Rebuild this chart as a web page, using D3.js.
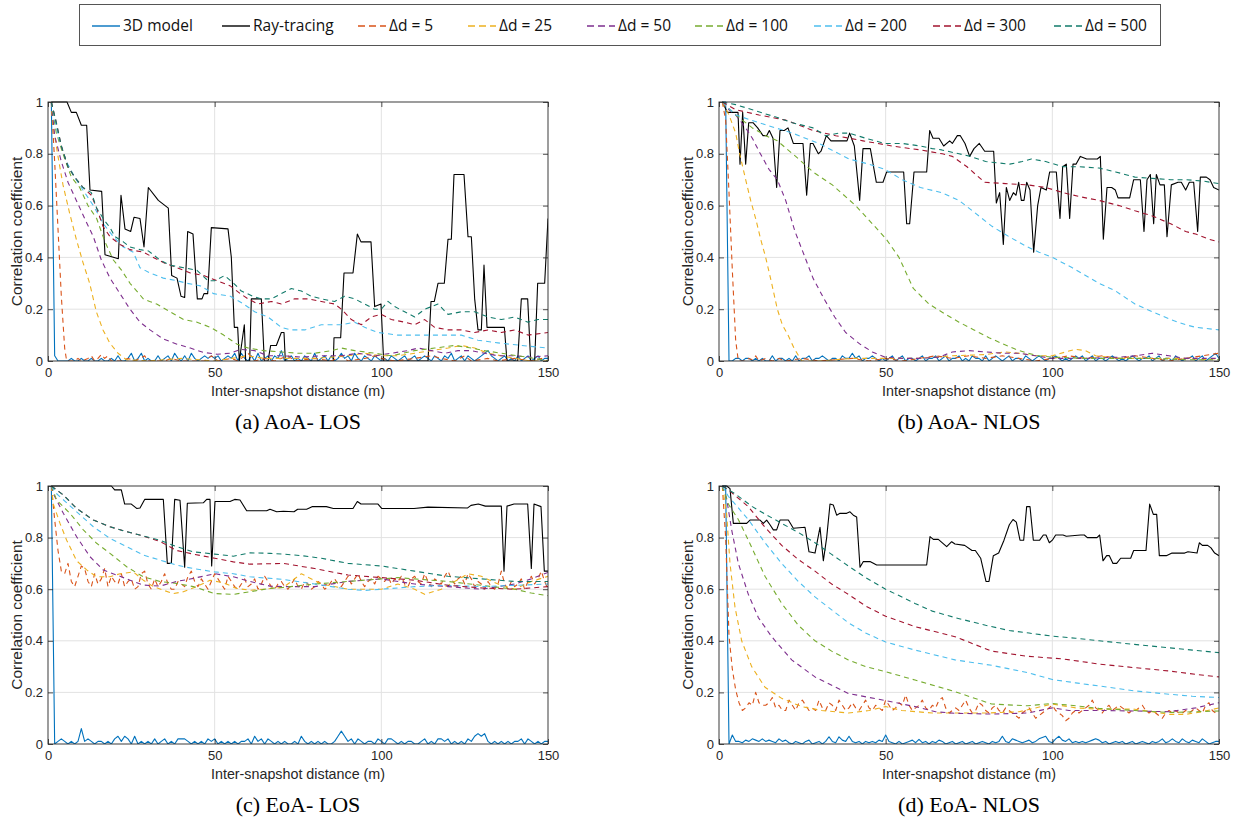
<!DOCTYPE html>
<html>
<head>
<meta charset="utf-8">
<script src="https://cdn.jsdelivr.net/npm/d3@7"></script>
<style>
  body { margin: 0; background: #fff; }
  svg { display: block; }
  .axis text { font-family: "Liberation Sans", Arial, sans-serif; font-size: 13px; fill: #262626; }
  .axis line { stroke: #262626; stroke-width: 0.8; }
  .grid line { stroke: #e2e2e2; stroke-width: 1; }
  .frame { fill: none; stroke: #262626; stroke-width: 0.9; }
  .axis-label { font-family: "Liberation Sans", Arial, sans-serif; font-size: 14.3px; fill: #262626; }
  .axis-label.y-label { font-size: 15.5px; }
  .caption { font-family: "Liberation Serif", "Times New Roman", serif; font-size: 22px; fill: #000; }
  .key-box { fill: #fff; stroke: #555; stroke-width: 1; }
  .key-text { font-family: "Open Sans", sans-serif; font-size: 15.5px; fill: #111; }
  .series { fill: none; stroke-width: 1.1; stroke-linejoin: round; }
</style>
</head>
<body>
<div id="correlation-chart"></div>
<script>
// Global vars
var SERIES_NAMES = ["3D model", "Ray-tracing", "\u0394d = 5", "\u0394d = 25", "\u0394d = 50",
  "\u0394d = 100", "\u0394d = 200", "\u0394d = 300", "\u0394d = 500"];
var SERIES_COLORS = ["#0072bd", "#000000", "#d95319", "#edb120", "#7e2f8e",
  "#77ac30", "#4dbeee", "#a2142f", "#127b6b"];
var SERIES_DASHED = [false, false, true, true, true, true, true, true, true];
var X_TICKS = [0, 50, 100, 150];
var Y_TICKS = [0, 0.2, 0.4, 0.6, 0.8, 1];
var CAPTIONS = ["(a) AoA- LOS", "(b) AoA- NLOS", "(c) EoA- LOS", "(d) EoA- NLOS"];
var X_LABEL = "Inter-snapshot distance (m)";
var Y_LABEL = "Correlation coefficient";

// Plain arrays are sampled at 1 m (x = 1, 2, 3 ...); pair arrays are [x, y].

// (a) AoA - LOS
var aoaLos3d = [
  1, .02, 0, 0, 0, 0, .01, 0, 0, .01,
  0, 0, .01, 0, 0, .01, 0, 0, .01, 0,
  .02, 0, 0, .01, .03, 0, .01, .03, 0, .01,
  0, 0, .02, 0, .01, .02, 0, .03, .01, 0,
  .02, 0, .03, .01, 0, .01, .02, .01, .02, .01,
  .02, 0, .01, .02, .01, .03, 0, .03, .01, 0,
  .02, 0, .03, 0, .01, .02, 0, .02, .01, .04,
  0, .01, .02, 0, .01, 0, .02, .01, 0, .03,
  0, .01, .02, 0, .02, 0, .01, .03, .01, .02,
  0, .03, .01, 0, .02, .01, 0, .02, .01, 0,
  .01, 0, .02, .01, 0, .01, .02, 0, .01, .02,
  0, .01, .02, .01, 0, .02, .01, 0, .02, .01,
  .03, 0, .01, .02, 0, .02, .01, 0, .01, .02,
  .03, .04, .02, .01, 0, .01, .02, 0, .01, 0,
  .02, 0, .01, .02, 0, .01, .02, 0, .01, .01
];
var aoaLosRay = [[1, 1], [5.7, 1], [7, .96], [8.5, .96], [10, .91], [11.6, .91], [12.6, .66], [16.1, .655],
  [17.1, .41], [21.1, .395], [21.9, .64], [23.1, .51], [24.8, .5], [25.8, .555], [27.6, .55], [28.8, .44],
  [30.1, .67], [33.1, .62], [36.1, .59], [37.1, .33], [38.7, .32], [39.9, .25], [41, .245], [41.9, .5],
  [43.5, .49], [44.8, .24], [46.2, .24], [46.8, .26], [47.9, .26], [49, .515], [54, .51], [55, .4],
  [55.9, .13], [56.9, .13], [57.4, 0], [58.9, .14], [59.3, 0], [60.5, 0], [61, .24], [64, .24], [64.9, 0],
  [66, 0], [66.8, .06], [68.5, .06], [70, .11], [70.8, .11], [71.2, 0], [85.6, 0], [85.8, .09], [87.8, .09],
  [88.8, .34], [91.5, .34], [92.8, .49], [93.9, .46], [96.9, .46], [98, .21], [99.9, .22], [100.7, 0],
  [114, 0], [114.9, .23], [115.9, .23], [117, .3], [118.9, .3], [120, .47], [121, .47], [121.8, .72],
  [124.8, .72], [126, .48], [127, .48], [128, .24], [129, .12], [130, .12], [130.8, .37], [131.7, .13],
  [136.9, .13], [137.7, 0], [140.9, 0], [142, .24], [143.9, .24], [144.8, 0], [146, 0], [146.9, .3],
  [149, .3], [150, .55]];
var aoaLosD5 = [[1, 1], [2, .77], [3, .51], [4, .25], [5, .05], [5.6, 0], [8, 0], [9, .01], [10, 0], [12, .01],
  [13, .02], [14, 0], [15, .01], [16, .025], [17, .01], [18, .02], [19, 0], [22, 0], [24, .01], [26, 0],
  [29, .02], [30, 0], [35, 0], [37, .01], [40, 0], [47, 0], [49, .02], [51, 0], [55, .01], [57, 0], [60, .03],
  [62, 0], [65, .01], [68, 0], [72, .02], [74, 0], [80, .01], [85, 0], [88, .02], [90, 0], [95, .01],
  [98, .02], [100, .01], [104, 0], [110, .01], [115, .02], [118, .01], [122, 0], [125, .02], [127, 0],
  [132, .01], [135, 0], [140, .01], [145, 0], [148, .01], [150, 0]];
var aoaLosD25 = [[1, 1], [1.5, .91], [3, .79], [4.5, .68], [6.5, .57], [8.5, .47], [10.5, .38], [12.5, .3],
  [14.5, .19], [16.5, .12], [18.5, .07], [21, .03], [23.5, .005], [30, 0], [40, .01], [50, 0], [55, .01],
  [60, .02], [65, .01], [70, .01], [80, .01], [90, .02], [95, .03], [100, .02], [105, .02], [110, .03],
  [115, .04], [120, .05], [124, .06], [128, .05], [132, .03], [136, .02], [140, .01], [145, 0], [150, 0]];
var aoaLosD50 = [[1, 1], [2, .87], [4, .77], [6, .69], [8.5, .62], [11, .55], [13.6, .48], [16, .39],
  [18.6, .32], [21.6, .26], [24.6, .2], [27.6, .15], [30.6, .12], [34.6, .085], [38.7, .065], [42.7, .05],
  [46.7, .033], [50.7, .026], [54.7, .03], [57.7, .045], [62, .04], [66, .02], [71, .02], [76, .015],
  [82, .02], [88, .02], [93, .03], [98, .02], [103, .03], [108, .04], [111, .05], [115, .04], [119, .03],
  [123, .04], [127, .04], [131, .03], [135, .02], [140, .02], [145, .015], [150, .02]];
var aoaLosD100 = [[1, 1], [2.5, .88], [4.5, .8], [7, .71], [9.5, .67], [12, .6], [14.6, .55], [17.1, .46],
  [19.6, .39], [22.1, .35], [24.6, .3], [28.6, .24], [30.5, .23], [32.6, .22], [36.6, .19], [40.7, .16],
  [44.7, .15], [48.7, .13], [52.7, .1], [56.7, .065], [60, .05], [64.7, .04], [70, .035], [75, .03],
  [80, .03], [85, .04], [88, .05], [92, .04], [98, .03], [103, .02], [110, .04], [116, .05], [122, .06],
  [127, .05], [131, .04], [136, .03], [141, .02], [146, .01], [150, 0]];
var aoaLosD200 = [[1, 1], [3, .87], [5.5, .77], [8, .71], [10.5, .66], [13.6, .6], [16.6, .53], [19.6, .48],
  [22.6, .44], [25.6, .42], [27.6, .36], [30.6, .34], [34.6, .32], [38.7, .31], [41.7, .3], [45.7, .29],
  [49.7, .26], [54.7, .25], [58.7, .22], [62, .19], [66, .17], [70, .13], [73, .12], [77, .12], [82, .14],
  [88, .14], [92, .15], [95, .13], [99, .11], [105, .1], [112, .1], [118, .1], [124, .1], [129, .08],
  [135, .07], [142, .06], [150, .05]];
var aoaLosD300 = [[1, 1], [2.5, .92], [4, .83], [6, .75], [8, .71], [10.5, .67], [13, .64], [14.6, .59],
  [16.5, .52], [18.6, .48], [21.6, .45], [24.6, .43], [28.6, .42], [31.6, .4], [34.6, .38], [38.7, .36],
  [42.7, .34], [46.7, .33], [50.7, .31], [54.7, .29], [57.7, .26], [60, .24], [63, .22], [67, .23],
  [70, .22], [74, .24], [78, .24], [82, .23], [86, .22], [88, .2], [91, .16], [94, .14], [97, .17],
  [100, .18], [103, .16], [107, .15], [110, .14], [113, .16], [116, .13], [120, .12], [124, .12],
  [128, .11], [132, .12], [136, .11], [140, .12], [144, .1], [150, .11]];
var aoaLosD500 = [[1, 1], [2.5, .92], [4, .83], [6, .75], [8, .71], [10.5, .67], [13, .65], [14.6, .59],
  [17.1, .54], [18.6, .515], [20.1, .48], [22.6, .46], [24.6, .44], [27.6, .43], [30.1, .425], [33.6, .39],
  [36.6, .37], [40.7, .36], [44.7, .35], [48, .31], [50, .31], [53, .33], [55.7, .3], [58, .27],
  [61.5, .25], [64, .24], [67, .24], [70, .26], [73, .28], [76, .27], [79, .25], [82, .24], [86, .23],
  [89, .25], [92, .24], [95, .22], [98, .2], [100, .2], [102, .23], [104, .21], [107, .19], [110, .17],
  [113, .2], [117, .22], [120, .18], [124, .19], [128, .19], [132, .17], [136, .16], [140, .17],
  [144, .15], [147, .16], [150, .16]];

// (b) AoA - NLOS
var aoaNlos3d = [
  1, 1, 0, 0, .01, .01, 0, .01, .01, 0,
  .01, 0, .01, 0, 0, .02, 0, .01, .01, 0,
  .01, 0, .02, 0, .01, .01, .02, 0, .01, .01,
  .02, .01, 0, .01, .01, 0, .02, .01, .01, .03,
  .01, .02, 0, .01, .01, .02, .01, 0, .01, 0,
  .01, .02, 0, .01, .02, 0, .01, .01, 0, .01,
  .02, 0, .01, .01, .02, 0, .01, .02, 0, .01,
  .01, .02, 0, .01, 0, .02, .01, .01, 0, .02,
  0, .01, .02, .01, 0, .01, .02, 0, .01, .01,
  0, .02, .01, 0, .01, .02, .01, 0, .01, .01,
  .02, .01, 0, .01, 0, .01, .02, .01, .02, 0,
  .01, .02, 0, .01, .01, 0, .01, .02, .01, 0,
  .01, 0, .01, .02, .01, 0, .01, .01, .02, 0,
  .01, .02, 0, .01, .01, 0, .02, .01, 0, .01,
  .01, .02, 0, .01, .02, 0, .01, .02, .03, .01
];
var aoaNlosRay = [[1, 1], [2.5, .96], [5.7, .96], [6.3, .76], [7.1, .96], [8, .76], [8.9, .92], [10.2, .92],
  [11.6, .9], [13.2, .87], [14.3, .87], [15.1, .89], [16.2, .86], [17.3, .67], [18.3, .89], [19.6, .89],
  [20.7, .9], [22.3, .84], [25.2, .84], [26.3, .64], [27.4, .84], [28.2, .84], [29.8, .8], [30.6, .81],
  [32.2, .87], [33.6, .85], [38.4, .85], [39.2, .88], [40.6, .83], [42.2, .62], [43.2, .82], [45.4, .82],
  [47.2, .69], [49.2, .69], [50.3, .73], [55.4, .73], [56.3, .53], [57.2, .53], [58.5, .73], [62.3, .73],
  [63.2, .89], [64.2, .86], [66, .86], [67.4, .83], [69.2, .85], [70, .84], [71.5, .87], [72.4, .87],
  [73.8, .84], [75.2, .79], [76.5, .82], [78.1, .84], [79.7, .81], [82.4, .81], [83.2, .61], [84.2, .65],
  [85.3, .45], [86.2, .67], [87.2, .62], [88.3, .65], [89.1, .64], [89.9, .69], [90.7, .62], [91.5, .62],
  [92.3, .69], [93.3, .66], [94.4, .42], [95.6, .6], [96.6, .67], [98.2, .66], [99.2, .73], [101.2, .73],
  [102.3, .55], [103.1, .75], [104.2, .76], [105.2, .55], [106.2, .76], [107.1, .76], [108.4, .79],
  [110.3, .78], [113.5, .78], [114.4, .79], [115.3, .47], [116.4, .67], [117.8, .67], [118.9, .66],
  [119.7, .63], [123.2, .63], [124.4, .7], [126.4, .7], [127.5, .5], [128.4, .7], [129.4, .72], [130.4, .53],
  [131.2, .72], [132.3, .68], [133.6, .68], [134.4, .48], [135.7, .68], [137.7, .69], [138.7, .69],
  [140, .66], [141.1, .69], [142.4, .69], [143.6, .5], [144.4, .71], [146.2, .71], [147.3, .7],
  [148.4, .67], [150, .66]];
var aoaNlosD5 = [[1, 1], [2, .93], [3, .65], [4, .35], [5, .08], [5.8, 0], [8, 0], [9, .01], [10, .005],
  [11, .02], [12, 0], [14, .01], [16, 0], [18, .01], [20, 0], [25, .01], [30, 0], [40, .01], [45, 0],
  [50, .01], [55, 0], [60, .01], [65, .02], [70, .01], [75, .02], [80, .01], [85, .02], [90, .01], [95, 0],
  [100, .01], [105, .02], [110, .01], [115, .02], [120, .01], [125, .02], [130, .01], [135, 0], [140, .01],
  [145, .02], [150, .03]];
var aoaNlosD25 = [[1, 1], [3, .95], [5, .88], [6.2, .8], [8, .7], [9.5, .62], [11, .55], [12.5, .47], [14, .4],
  [15.8, .3], [17.5, .2], [19, .14], [20.7, .1], [22.5, .05], [24.8, 0], [30, 0], [40, .01], [50, .01],
  [60, .01], [70, .02], [80, .025], [86, .035], [90, .03], [95, .02], [100, .02], [104, .035], [107, .045],
  [110, .04], [113, .02], [120, .01], [130, .01], [140, .01], [145, .005], [150, .01]];
var aoaNlosD50 = [[1, 1], [3, .97], [5, .95], [8, .9], [10, .86], [12, .81], [15, .74], [17.5, .7], [20, .62],
  [22.8, .5], [25.5, .41], [28.2, .32], [31.5, .24], [34.7, .17], [38, .11], [42.2, .066], [46, .035],
  [49.7, .015], [55, .01], [60, .01], [66, .015], [70, .035], [75, .04], [80, .035], [85, .03], [90, .03],
  [95, .02], [100, .01], [110, .01], [120, .015], [125, .02], [130, .03], [135, .02], [140, .01],
  [145, .01], [150, .01]];
var aoaNlosD100 = [[1, 1], [5, .95], [10, .9], [14, .87], [17.5, .85], [23, .79], [28.2, .73], [34, .68],
  [41, .6], [46, .53], [50.2, .47], [54, .4], [58.3, .28], [63, .22], [68, .18], [72, .15], [76.5, .12],
  [81, .09], [85, .067], [89, .045], [92.6, .03], [96, .02], [100, .015], [110, .01], [120, .01],
  [130, .01], [140, .005], [150, .005]];
var aoaNlosD200 = [[1, 1], [5, .95], [12, .92], [22, .88], [30, .84], [39, .78], [45, .76], [49.7, .74],
  [55, .7], [60.4, .67], [66.8, .65], [72, .62], [76, .58], [81.9, .52], [87, .48], [92.6, .44], [96, .42],
  [100, .4], [106, .36], [114, .3], [119, .27], [124.8, .22], [130, .19], [135.5, .16], [140, .14],
  [143, .13], [150, .12]];
var aoaNlosD300 = [[1, 1], [5, .97], [12, .95], [20, .93], [28.2, .89], [35, .87], [43.2, .85], [52, .83],
  [60.4, .815], [67, .8], [70, .79], [74.4, .75], [77, .72], [79.7, .69], [86, .685], [92.6, .68], [98, .67],
  [103.3, .65], [108, .635], [114, .62], [120, .6], [124.8, .58], [130, .56], [135.5, .53], [140, .5],
  [143, .49], [147, .47], [150, .46]];
var aoaNlosD500 = [[1, 1], [5, .99], [10, .97], [17.5, .94], [22, .92], [28.2, .9], [32, .87], [36, .88],
  [39, .88], [44, .86], [49.7, .84], [55, .84], [60.4, .83], [64, .82], [66.8, .815], [72, .8], [75.4, .79],
  [80, .77], [87.2, .76], [91, .77], [93.7, .78], [98, .77], [103.3, .75], [108, .75], [114, .745],
  [119, .73], [124.8, .71], [130, .705], [135.5, .7], [140, .7], [145, .695], [150, .685]];

// (c) EoA - LOS
var eoaLos3d = [
  1, 0, .01, .02, .01, 0, .01, 0, .01, .06,
  .01, .02, .01, 0, .01, .01, 0, .01, 0, .02,
  .03, .01, .03, .02, 0, .03, 0, .01, 0, .01,
  0, .02, 0, .01, .02, 0, .01, 0, .02, .02,
  .02, .01, 0, .01, 0, .01, 0, .02, .01, .02,
  0, .01, 0, .01, 0, .01, 0, .01, .01, .02,
  0, .03, .01, .02, 0, .02, .01, 0, .01, 0,
  .01, 0, 0, .01, 0, .03, .01, 0, .01, 0,
  .01, 0, .01, 0, 0, .01, .03, .05, .03, .01,
  .02, 0, .02, .01, 0, .01, .01, 0, .02, .01,
  0, .02, .02, .01, 0, .01, 0, .01, .01, 0,
  0, .01, .02, 0, .01, 0, .02, .02, .01, .02,
  0, .01, 0, .01, 0, .02, .01, .03, .04, .03,
  .04, .01, 0, .01, 0, .01, 0, .01, 0, .01,
  .01, .02, 0, .02, .01, 0, .01, 0, .01, .01
];
var eoaLosRay = [[1, 1], [19, 1], [20, .985], [22, .985], [23, .93], [25, .93], [26.6, .913], [27.6, .915],
  [29, .948], [34.6, .948], [35.8, .7], [37, .7], [38, .948], [39.6, .945], [41, .685], [41.8, .933],
  [46.6, .935], [47.6, .948], [48.6, .948], [49.1, .69], [50.1, .94], [54.6, .94], [56, .948], [57.6, .946],
  [59.6, .904], [65.6, .904], [66.6, .91], [68.6, .9], [70.6, .902], [73.8, .9], [74.9, .91], [77.6, .91],
  [79.2, .92], [83.5, .92], [85.6, .913], [91.5, .913], [92.8, .94], [93.9, .93], [99, .93], [100.1, .913],
  [109.8, .913], [114, .918], [125.9, .915], [126.9, .925], [129.1, .93], [131.2, .922], [136, .922],
  [136.8, .67], [137.7, .922], [139.8, .93], [143.9, .93], [145, .68], [145.8, .93], [147.9, .92],
  [148.9, .67], [150, .67]];
var eoaLosD5 = [
  1, .87, .75, .67, .66, .7, .63, .61, .65, .69,
  .68, .63, .61, .66, .62, .64, .68, .61, .65, .63,
  .62, .66, .61, .63, .64, .6, .61, .66, .67, .62,
  .6, .64, .61, .63, .66, .62, .6, .6, .63, .62,
  .61, .65, .67, .63, .61, .64, .62, .6, .63, .66,
  .64, .62, .6, .65, .63, .61, .6, .62, .64, .61,
  .62, .64, .6, .62, .65, .63, .61, .6, .62, .63,
  .61, .6, .62, .64, .61, .6, .63, .62, .6, .61,
  .63, .62, .6, .61, .63, .64, .62, .61, .63, .65,
  .62, .64, .66, .63, .61, .63, .64, .62, .65, .64,
  .63, .65, .62, .64, .63, .65, .62, .61, .64, .65,
  .63, .62, .66, .63, .61, .64, .63, .62, .65, .67,
  .64, .62, .64, .65, .62, .66, .64, .61, .63, .62,
  .6, .63, .61, .6, .62, .67, .62, .6, .63, .61,
  .62, .64, .6, .63, .65, .62, .64, .67, .63, .6
];
var eoaLosD25 = [[1, 1], [1.6, .93], [3.6, .855], [5.6, .79], [8.6, .71], [11.6, .675], [14.6, .648],
  [18.6, .648], [21.6, .66], [25.6, .667], [28.6, .635], [31.6, .61], [34.6, .596], [37.6, .583],
  [40.6, .59], [44.6, .61], [48.6, .635], [52.6, .625], [56.6, .603], [60.6, .596], [64.6, .6],
  [70.6, .607], [76, .66], [82, .62], [90, .6], [96, .6], [100, .6], [105, .62], [110, .6], [113, .58],
  [118, .6], [122, .63], [126, .66], [130, .65], [135, .62], [140, .6], [145, .63], [150, .65]];
var eoaLosD50 = [[1, 1], [1.6, .97], [4.6, .894], [8.6, .803], [12.6, .726], [16.6, .674], [20.6, .655],
  [24.6, .635], [28.6, .616], [33.6, .612], [38.6, .63], [43.6, .642], [50, .66], [55.6, .648], [60.6, .63],
  [66.6, .612], [70.6, .61], [80, .61], [90, .63], [100, .64], [110, .62], [120, .61], [130, .6],
  [140, .62], [145, .64], [150, .665]];
var eoaLosD100 = [[1, 1], [2.6, .945], [6.6, .894], [10.6, .83], [14.6, .778], [18.6, .739], [23.6, .687],
  [28.6, .648], [33.6, .63], [38.6, .622], [43.6, .61], [50, .583], [55.6, .58], [60.6, .59], [66.6, .603],
  [70.6, .607], [80, .62], [90, .63], [100, .64], [105, .645], [110, .64], [120, .63], [130, .615],
  [140, .6], [145, .585], [150, .575]];
var eoaLosD200 = [[1, 1], [2.6, .97], [8.6, .9], [13.6, .842], [18.6, .797], [23.6, .765], [28.6, .732],
  [33.6, .713], [38.6, .693], [43.6, .68], [50, .667], [55.6, .66], [60.6, .648], [70.6, .638], [80, .62],
  [90, .6], [95, .595], [100, .6], [110, .61], [120, .615], [130, .61], [140, .615], [150, .62]];
var eoaLosD300 = [[1, 1], [4.6, .965], [8.6, .913], [13.6, .868], [18.6, .842], [23.6, .823], [28.6, .806],
  [33.6, .785], [38.6, .75], [43.6, .736], [50, .72], [55.6, .706], [60.6, .697], [70.6, .7], [80, .68],
  [90, .655], [100, .645], [110, .635], [120, .615], [130, .605], [140, .6], [150, .61]];
var eoaLosD500 = [[1, 1], [4.6, .965], [8.6, .913], [13.6, .868], [18.6, .842], [23.6, .823], [28.6, .806],
  [33.6, .79], [38.6, .765], [43.6, .745], [50, .736], [55.6, .728], [60.6, .741], [66.6, .739],
  [70.6, .736], [76, .73], [82, .72], [90, .7], [100, .69], [110, .67], [120, .65], [130, .64], [140, .63],
  [150, .63]];

// (d) EoA - NLOS
var eoaNlos3d = [
  1, 1, 0, .035, .01, .01, .005, .015, .01, .02,
  .015, .01, .02, .01, .015, .01, .005, .02, .01, .015,
  .005, 0, .01, .005, 0, .01, .015, 0, .005, .01,
  0, .01, .028, .01, .005, .028, .015, .01, .03, .01,
  .005, .01, 0, .01, .005, .01, .005, .015, .01, .035,
  .01, .005, 0, .01, 0, .005, .01, .015, .005, .018,
  .005, .01, 0, .01, .005, .015, .01, 0, .005, .01,
  0, .005, .01, 0, .005, .01, 0, .005, .01, .005,
  0, .01, .005, .01, .03, .01, .005, .02, .015, .01,
  .005, .01, .015, .005, .01, .02, .025, .03, .01, .005,
  .02, .03, .015, .01, .02, .005, .01, .005, .01, .005,
  .01, .015, .02, .015, .005, .01, 0, .005, .01, .005,
  .01, 0, .005, .01, 0, .005, .01, .005, 0, .01,
  .005, .01, .02, .005, .01, .02, .01, .005, .02, .01,
  .005, .015, .01, .005, .02, .01, 0, .005, .01, .01
];
var eoaNlosRay = [[1, 1], [2.3, 1], [3.3, .99], [4.3, .855], [8.3, .855], [9.3, .868], [12.3, .868],
  [13.3, .855], [14.3, .868], [15.3, .85], [16.3, .83], [17.3, .83], [18.3, .868], [20.8, .868],
  [22.3, .836], [25.8, .84], [27, .745], [28.8, .74], [30.3, .84], [31.3, .71], [32.3, .8], [33.3, .93],
  [34.3, .926], [35.3, .887], [36.3, .894], [38.3, .894], [39.3, .9], [40.3, .887], [41.3, .88],
  [42.3, .685], [43.3, .707], [45.3, .707], [47.3, .694], [62.3, .694], [63.3, .804], [64.3, .793],
  [65.8, .793], [68.3, .765], [69.8, .784], [70.8, .775], [73.7, .77], [75.9, .75], [76.9, .75],
  [78.5, .72], [80.1, .63], [81, .63], [82.3, .73], [83.9, .74], [85.5, .79], [87.1, .85], [88.2, .87],
  [89.2, .86], [90.3, .79], [91.4, .79], [92.3, .92], [93.3, .92], [94.3, .79], [96.2, .79], [97.3, .81],
  [98.1, .81], [99.1, .78], [100, .79], [101, .81], [103.2, .81], [104.2, .805], [108.5, .81], [109.6, .81],
  [110.5, .8], [113.4, .8], [114.2, .81], [115.2, .71], [116.3, .73], [117.1, .73], [118.2, .7],
  [119.3, .7], [120.5, .72], [123.5, .72], [124.4, .75], [128.1, .75], [129.2, .93], [130.3, .89],
  [131.3, .89], [132.1, .73], [134.2, .73], [135.9, .74], [139.7, .74], [140.7, .745], [143.4, .74],
  [144.1, .78], [145, .77], [146.6, .77], [147.6, .76], [148.7, .74], [150, .73]];
var eoaNlosD5 = [
  1, .8, .42, .29, .21, .16, .13, .14, .16, .15,
  .2, .16, .15, .15, .16, .18, .14, .15, .13, .13,
  .17, .15, .13, .16, .17, .15, .13, .14, .13, .17,
  .14, .13, .16, .15, .13, .17, .15, .13, .14, .16,
  .14, .13, .15, .17, .14, .13, .15, .14, .13, .17,
  .15, .13, .14, .16, .15, .19, .15, .13, .14, .15,
  .17, .14, .13, .15, .14, .17, .18, .14, .12, .13,
  .14, .13, .15, .17, .14, .12, .13, .16, .15, .13,
  .12, .14, .15, .13, .12, .14, .13, .12, .11, .1,
  .12, .13, .14, .12, .1, .11, .12, .13, .14, .15,
  .13, .12, .11, .09, .1, .12, .13, .12, .13, .14,
  .15, .17, .14, .13, .12, .14, .15, .13, .14, .15,
  .14, .13, .12, .13, .13, .14, .15, .13, .12, .13,
  .12, .11, .1, .12, .13, .12, .13, .12, .12, .13,
  .12, .13, .14, .13, .12, .15, .16, .13, .12, .12
];
var eoaNlosD25 = [[1, 1], [2.3, .89], [3.3, .7], [4.8, .53], [6.8, .4], [9.8, .3], [13.8, .22],
  [18.8, .177], [24.8, .145], [30.8, .13], [38.8, .12], [45, .13], [50, .145], [54.8, .13], [64, .12],
  [71.3, .12], [80, .12], [90, .125], [100, .155], [107, .14], [114, .135], [124.6, .135], [130, .125],
  [135, .115], [140, .115], [145, .125], [150, .14]];
var eoaNlosD50 = [[1, 1], [2.3, .95], [3.8, .83], [5.8, .7], [8.8, .58], [11.8, .49], [15.8, .416],
  [21.8, .326], [28.8, .26], [38.8, .196], [50, .168], [58.8, .145], [65, .125], [70.8, .119],
  [81.8, .116], [92.5, .12], [100, .14], [105, .13], [114, .13], [124.6, .128], [135, .125], [143, .14],
  [150, .16]];
var eoaNlosD100 = [[1, 1], [2.8, .93], [5.8, .87], [8.8, .79], [13.8, .65], [18.8, .545], [23.8, .46],
  [28.8, .4], [33.8, .36], [38.8, .326], [44, .3], [50, .28], [58.8, .248], [70.8, .203], [76, .18],
  [81.8, .155], [92.5, .148], [100, .157], [107, .148], [114, .138], [124.6, .13], [135, .122],
  [150, .128]];
var eoaNlosD200 = [[1, 1], [2.8, .96], [8.8, .87], [13.8, .78], [18.8, .7], [23.8, .63], [28.8, .57],
  [33.8, .52], [38.8, .47], [44, .43], [50, .395], [58.8, .364], [70.8, .326], [81.8, .305], [92.5, .277],
  [100, .25], [107, .237], [114, .225], [124.6, .206], [135, .193], [142, .185], [150, .18]];
var eoaNlosD300 = [[1, 1], [3.3, .98], [8.8, .92], [13.8, .84], [18.8, .77], [23.8, .715], [28.8, .67],
  [33.8, .62], [38.8, .58], [44, .535], [50, .495], [58.8, .455], [70.8, .416], [81.8, .36], [92.5, .34],
  [103, .33], [114, .31], [124.6, .296], [135, .283], [143, .27], [150, .26]];
var eoaNlosD500 = [[1, 1], [4.8, .97], [10, .92], [14, .89], [18.8, .855], [23.8, .82], [28.8, .78],
  [33.8, .735], [38.8, .69], [44, .645], [50, .6], [58.8, .545], [64, .515], [70.8, .49], [80, .46],
  [87, .44], [93, .43], [100, .418], [107, .41], [114, .4], [124.6, .386], [135, .373], [142, .364],
  [150, .354]];

var PANEL_SERIES = [
  [aoaLos3d, aoaLosRay, aoaLosD5, aoaLosD25, aoaLosD50, aoaLosD100, aoaLosD200, aoaLosD300, aoaLosD500],
  [aoaNlos3d, aoaNlosRay, aoaNlosD5, aoaNlosD25, aoaNlosD50, aoaNlosD100, aoaNlosD200, aoaNlosD300, aoaNlosD500],
  [eoaLos3d, eoaLosRay, eoaLosD5, eoaLosD25, eoaLosD50, eoaLosD100, eoaLosD200, eoaLosD300, eoaLosD500],
  [eoaNlos3d, eoaNlosRay, eoaNlosD5, eoaNlosD25, eoaNlosD50, eoaNlosD100, eoaNlosD200, eoaNlosD300, eoaNlosD500]
];

// Layout (pixels)
var LAYOUT = {
  width: 1237,
  height: 818,
  panels: [
    { left: 48, top: 102, width: 500, height: 259 },
    { left: 719, top: 102, width: 500, height: 259 },
    { left: 48, top: 486, width: 500, height: 258 },
    { left: 719, top: 486, width: 500, height: 258 }
  ],
  key: { left: 79, top: 4, width: 1081, height: 41, sample: 28, starts: [92, 222, 358, 468, 587, 695, 814, 933, 1054] },
  tickSize: 5
};

var makeTranslate = function(x, y) {
  return "translate(" + x + "," + y + ")";
};

// Turn either form of series into [x, y] points.
var toPoints = function(values) {
  if (typeof values[0] === "number") {
    return values.map(function(y, i) {
      return [i + 1, y];
    });
  }
  return values;
};

// Render the graphic.
var render = function() {
  var containerElement = d3.select("#correlation-chart");
  containerElement.html("");

  var svg = containerElement
    .append("svg")
    .attr("width", LAYOUT.width)
    .attr("height", LAYOUT.height);

  renderKey(svg);

  LAYOUT.panels.forEach(function(box, i) {
    renderPanel(svg, box, PANEL_SERIES[i], CAPTIONS[i], i);
  });
};

// Render the legend box along the top.
var renderKey = function(svg) {
  var key = LAYOUT.key;
  var keyElement = svg.append("g").attr("class", "key");

  keyElement
    .append("rect")
    .attr("class", "key-box")
    .attr("x", key.left + 0.5)
    .attr("y", key.top + 0.5)
    .attr("width", key.width)
    .attr("height", key.height);

  var midY = key.top + key.height / 2 + 1.5;

  var items = keyElement
    .selectAll(".key-item")
    .data(SERIES_NAMES)
    .enter()
    .append("g")
    .attr("class", "key-item")
    .attr("transform", function(d, i) {
      return makeTranslate(key.starts[i], midY);
    });

  items
    .append("line")
    .attr("x1", 0)
    .attr("x2", key.sample)
    .attr("y1", 0)
    .attr("y2", 0)
    .style("stroke", function(d, i) {
      return SERIES_COLORS[i];
    })
    .style("stroke-width", 1.4)
    .style("stroke-dasharray", function(d, i) {
      return SERIES_DASHED[i] ? "7,4" : null;
    });

  items
    .append("text")
    .attr("class", "key-text")
    .attr("x", key.sample + 3)
    .attr("y", 0)
    .attr("dy", "0.35em")
    .text(function(d) {
      return d;
    });
};

// Render one correlation panel.
var renderPanel = function(svg, box, seriesList, caption, index) {
  var chartElement = svg
    .append("g")
    .attr("class", "panel")
    .attr("transform", makeTranslate(box.left, box.top));

  var xScale = d3.scaleLinear().domain([0, 150]).range([0, box.width]);
  var yScale = d3.scaleLinear().domain([0, 1]).range([box.height, 0]);

  // Render grid to chart.
  var grid = chartElement.append("g").attr("class", "grid");

  grid
    .selectAll("line.gx")
    .data(X_TICKS.slice(1, -1))
    .enter()
    .append("line")
    .attr("class", "gx")
    .attr("x1", d => xScale(d))
    .attr("x2", d => xScale(d))
    .attr("y1", 0)
    .attr("y2", box.height);

  grid
    .selectAll("line.gy")
    .data(Y_TICKS.slice(1, -1))
    .enter()
    .append("line")
    .attr("class", "gy")
    .attr("x1", 0)
    .attr("x2", box.width)
    .attr("y1", d => yScale(d))
    .attr("y2", d => yScale(d));

  // Render series to chart.
  var clipId = "clip-" + index;
  chartElement
    .append("clipPath")
    .attr("id", clipId)
    .append("rect")
    .attr("x", 0)
    .attr("y", -1)
    .attr("width", box.width)
    .attr("height", box.height + 1);

  var line = d3
    .line()
    .x(d => xScale(d[0]))
    .y(d => yScale(d[1]));

  chartElement
    .append("g")
    .attr("class", "lines")
    .attr("clip-path", "url(#" + clipId + ")")
    .selectAll("path")
    .data(seriesList.map(toPoints))
    .enter()
    .append("path")
    .attr("class", "series")
    .attr("d", line)
    .style("stroke", function(d, i) {
      return SERIES_COLORS[i];
    })
    .style("stroke-dasharray", function(d, i) {
      return SERIES_DASHED[i] ? "5,4" : null;
    });

  // Create D3 axes (ticks point inwards).
  var xAxis = d3
    .axisBottom(xScale)
    .tickValues(X_TICKS)
    .tickSizeInner(-LAYOUT.tickSize)
    .tickSizeOuter(0)
    .tickPadding(7)
    .tickFormat(d => String(d));

  var yAxis = d3
    .axisLeft(yScale)
    .tickValues(Y_TICKS)
    .tickSizeInner(-LAYOUT.tickSize)
    .tickSizeOuter(0)
    .tickPadding(5)
    .tickFormat(d => String(d));

  chartElement
    .append("g")
    .attr("class", "x axis")
    .attr("transform", makeTranslate(0, box.height))
    .call(xAxis);

  chartElement
    .append("g")
    .attr("class", "y axis")
    .call(yAxis);

  chartElement
    .append("g")
    .attr("class", "x axis top")
    .call(d3.axisTop(xScale).tickValues(X_TICKS).tickSizeInner(-LAYOUT.tickSize).tickSizeOuter(0).tickFormat(""));

  chartElement
    .append("g")
    .attr("class", "y axis right")
    .attr("transform", makeTranslate(box.width, 0))
    .call(d3.axisRight(yScale).tickValues(Y_TICKS).tickSizeInner(-LAYOUT.tickSize).tickSizeOuter(0).tickFormat(""));

  chartElement.selectAll(".axis .domain").remove();

  chartElement
    .append("rect")
    .attr("class", "frame")
    .attr("x", 0)
    .attr("y", 0)
    .attr("width", box.width)
    .attr("height", box.height);

  // Render axis labels and caption.
  chartElement
    .append("text")
    .attr("class", "axis-label")
    .attr("x", box.width / 2)
    .attr("y", box.height + 35)
    .attr("text-anchor", "middle")
    .text(X_LABEL);

  chartElement
    .append("text")
    .attr("class", "axis-label y-label")
    .attr("transform", makeTranslate(-26, box.height / 2) + " rotate(-90)")
    .attr("text-anchor", "middle")
    .text(Y_LABEL);

  chartElement
    .append("text")
    .attr("class", "caption")
    .attr("x", box.width / 2)
    .attr("y", box.height + 68)
    .attr("text-anchor", "middle")
    .text(caption);
};

window.onload = render;
</script>
</body>
</html>
